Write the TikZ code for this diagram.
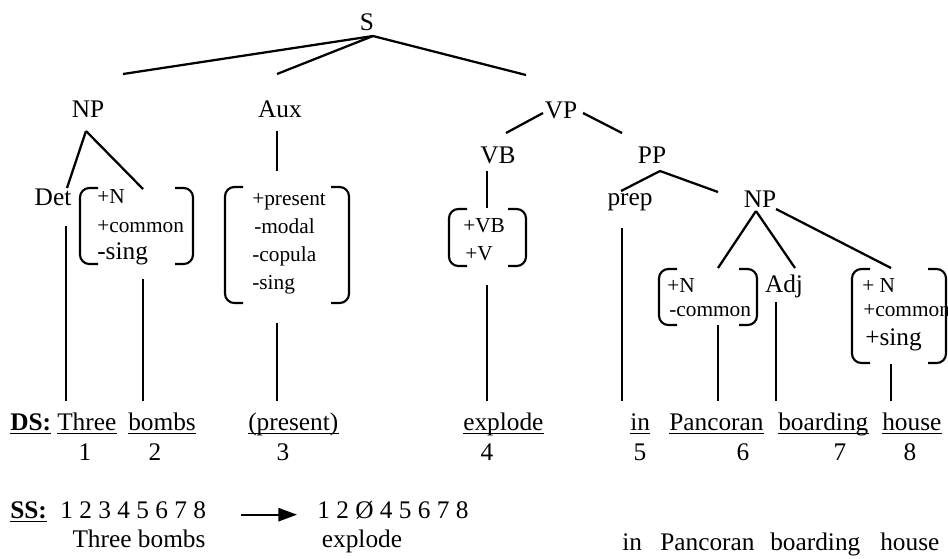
\documentclass[tikz,border=0pt]{standalone}
\usepackage{fontspec}
\setmainfont{Liberation Serif}
\usetikzlibrary{arrows.meta}

\newcommand\mainsz{\fontsize{19}{21}\selectfont}
\newcommand\featsz{\fontsize{16}{18}\selectfont}

% pair of feature brackets: left x, right x, top, bottom
\newcommand\featbrak[4]{%
  \draw[brak] (#1+18,#3) -- (#1,#3) -- (#1,#4) -- (#1+18,#4);
  \draw[brak] (#2-18,#3) -- (#2,#3) -- (#2,#4) -- (#2-18,#4);}

\tikzset{
  lbl/.style={font=\mainsz, inner sep=0pt, anchor=base},
  feat/.style={font=\featsz, inner sep=0pt, anchor=base west},
  word/.style={font=\mainsz, inner sep=0pt, anchor=base west},
  uline/.style={draw, line width=1.2pt},
  uword/.style={word, append after command={
    ([yshift=-2.6pt]\tikzlastnode.base west) edge[uline] ([yshift=-2.6pt]\tikzlastnode.base east)}},
  edge/.style={line width=1.7pt},
  stem/.style={line width=1.3pt},
  brak/.style={line width=1.6pt, rounded corners=7pt},
  arr/.style={line width=1.3pt, -{Triangle[length=14pt,width=10pt]}},
}

\begin{document}
\begin{tikzpicture}[x=0.75pt, y=-0.75pt]
\useasboundingbox (0,0) rectangle (948,558);
\clip (0,0) rectangle (948,558);

% categories
\node[lbl] (S) at (367,30) {S};
\node[lbl] (np) at (88,117) {NP};
\node[lbl] (aux) at (280,117) {Aux};
\node[lbl] (vp) at (561,118) {VP};
\node[lbl] (vb) at (498,163) {VB};
\node[lbl] (pp) at (652,163) {PP};
\node[lbl] (det) at (53,205) {Det};
\node[lbl] (prep) at (630,205) {prep};
\node[lbl] (np2) at (760,207) {NP};
\node[lbl] (adj) at (784,292) {Adj};

% feature matrices
\featbrak{80}{193}{188}{264}
\node[feat] (f1a) at (97,203) {+N};
\node[feat] (f1b) at (97,232) {+common};
\node[feat, font=\mainsz] (f1c) at (97,259) {-sing};

\featbrak{225}{349}{187}{303}
\node[feat] (f2a) at (252,205) {+present};
\node[feat] (f2b) at (254,233) {-modal};
\node[feat] (f2c) at (252,261) {-copula};
\node[feat] (f2d) at (252,289) {-sing};

\featbrak{449}{526}{209}{266}
\node[feat] (f3a) at (463,232) {+VB};
\node[feat] (f3b) at (465,260) {+V};

\featbrak{659}{757}{269}{325}
\node[feat] (f4a) at (667,292) {+N};
\node[feat] (f4b) at (669,316) {-common};

\featbrak{852}{946}{269}{363}
\node[feat] (f5a) at (862,292) {+ N};
\node[feat] (f5b) at (863,316) {+common};
\node[feat, font=\mainsz] (f5c) at (865,345) {+sing};

% tree edges
\coordinate (s-top) at (373,36);
\coordinate (np-in) at (123,74);
\coordinate (aux-in) at (277,74);
\coordinate (vp-in) at (526,75);
\coordinate (np-out) at (86,131);
\coordinate (det-in) at (67,188);
\coordinate (n1-in) at (143,189);
\coordinate (aux-out) at (277,131);
\coordinate (aux-feat) at (277,171);
\coordinate (vp-l) at (543,113);
\coordinate (vp-r) at (583,113);
\coordinate (vb-in) at (506,133);
\coordinate (pp-in) at (622,133);
\coordinate (vb-out) at (487,171);
\coordinate (vb-feat) at (487,208);
\coordinate (pp-out) at (660,171);
\coordinate (prep-in) at (621,191);
\coordinate (np2-in) at (718,192);
\coordinate (np2-out) at (756,211);
\coordinate (np2-r) at (776,209);
\coordinate (n6-in) at (718,268);
\coordinate (adj-in) at (795,268);
\coordinate (n8-in) at (891,268);

\draw[edge] (s-top) -- (np-in);
\draw[edge] (s-top) -- (aux-in);
\draw[edge] (s-top) -- (vp-in);
\draw[edge] (np-out) -- (det-in);
\draw[edge] (np-out) -- (n1-in);
\draw[edge] (aux-out) -- (aux-feat);
\draw[edge] (vp-l) -- (vb-in);
\draw[edge] (vp-r) -- (pp-in);
\draw[edge] (vb-out) -- (vb-feat);
\draw[edge] (pp-out) -- (prep-in);
\draw[edge] (pp-out) -- (np2-in);
\draw[edge] (np2-out) -- (n6-in);
\draw[edge] (np2-out) -- (adj-in);
\draw[edge] (np2-r) -- (n8-in);

% stems down to the words
\foreach \x/\t in {66/226,143/279,277/323,487/285,622/228,718/325,776/302,891/364}
  \draw[stem] (\x,\t) -- (\x,401);

% deep structure
\node[uword] (ds) at (10,430) {\textbf{DS:}};
\node[uword] (w1) at (57,430) {Three};
\node[uword] (w2) at (128,430) {bombs};
\node[uword] (w3) at (248,430) {(present)};
\node[uword] (w4) at (463,430) {explode};
\node[uword] (w5) at (630,430) {in};
\node[uword] (w6) at (669,430) {Pancoran\ };
\node[uword] (w7) at (778,430) {boarding};
\node[uword] (w8) at (882,430) {house};
\foreach \n/\x in {1/85,2/155,3/283,4/487,5/640,6/743,7/840,8/910}
  \node[lbl] (d\n) at (\x,460) {\n};

% surface structure
\node[uword] (ss) at (10,518) {\textbf{SS:}\ };
\node[word] (ssnum) at (60,518) {1 2 3 4 5 6 7 8};
\node[word] (ssout) at (317,518) {1 2 Ø 4 5 6 7 8};
\draw[arr, shorten <=26pt, shorten >=15pt] ([yshift=2.5pt]ssnum.base east) -- ([yshift=2.5pt]ssout.base west);
\node[lbl] (sw1) at (139,547) {Three bombs};
\node[lbl] (sw2) at (362,547) {explode};
\node[word] (sw3) at (622,550) {in};
\node[word] (sw4) at (660,550) {Pancoran};
\node[word] (sw5) at (770,550) {boarding};
\node[word] (sw6) at (880,550) {house};
\end{tikzpicture}
\end{document}
